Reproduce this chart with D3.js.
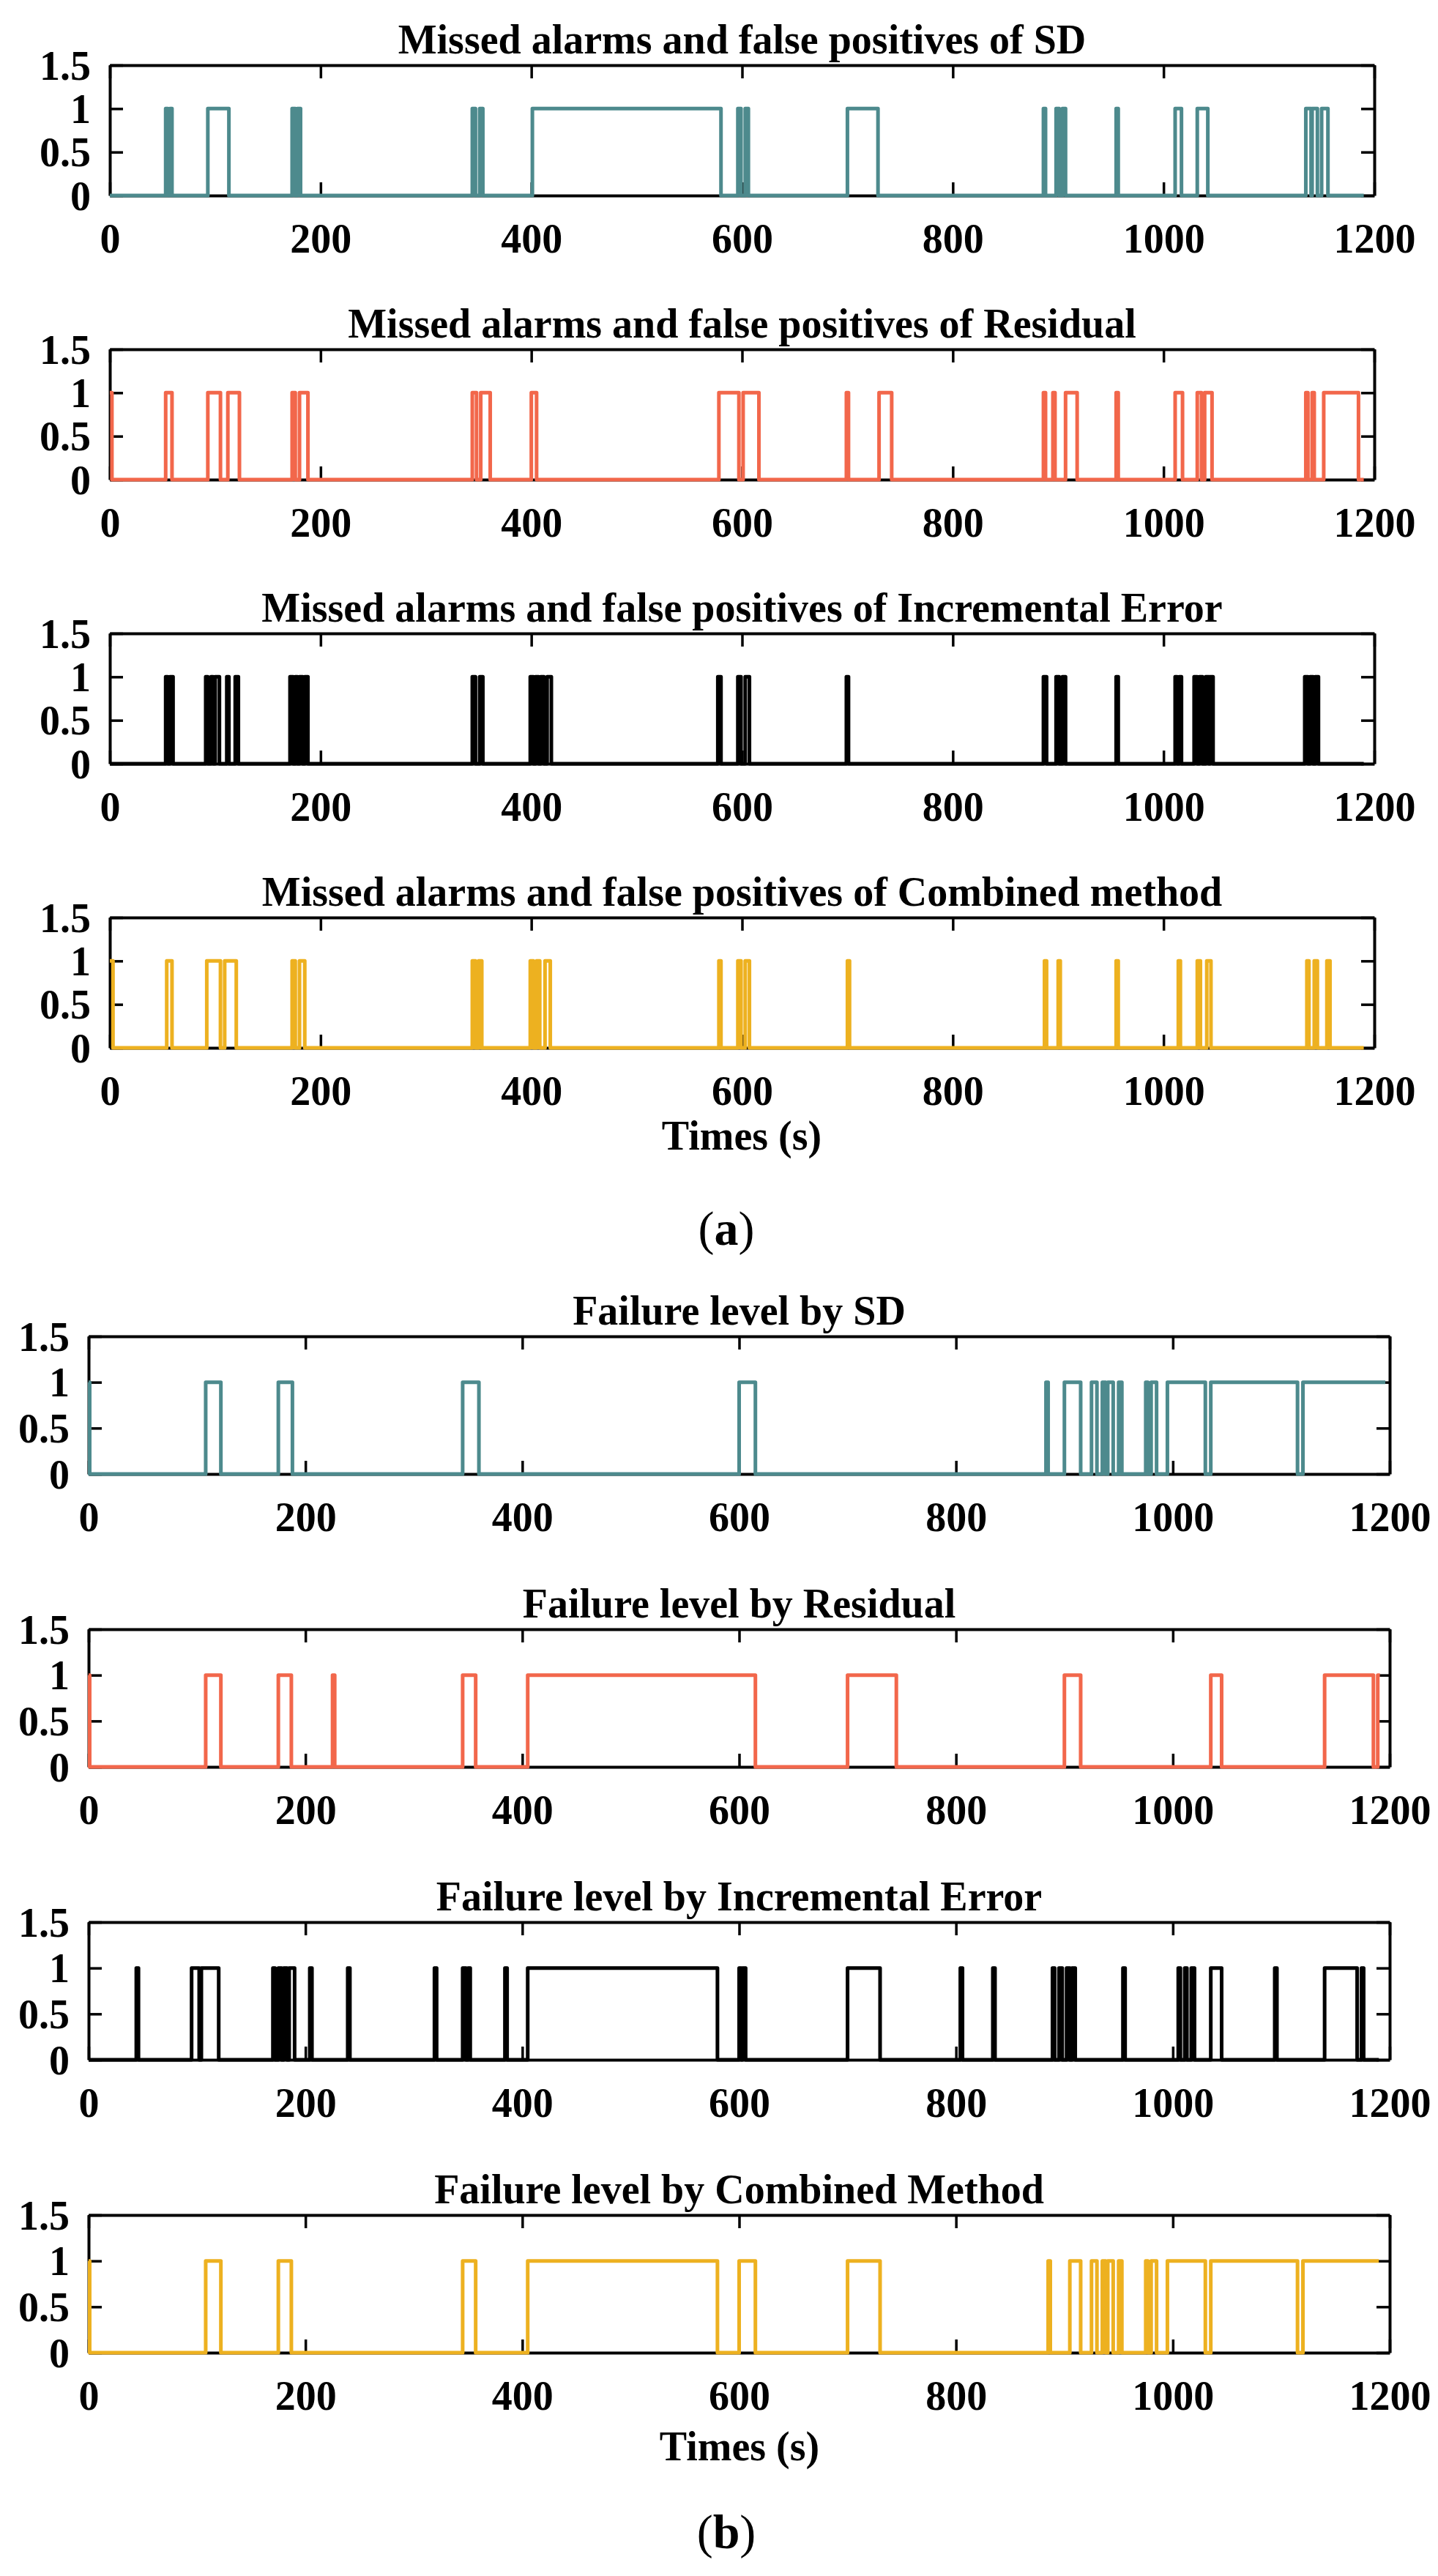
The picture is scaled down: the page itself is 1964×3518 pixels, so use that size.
<!DOCTYPE html>
<html>
<head>
<meta charset="utf-8">
<script src="https://cdn.jsdelivr.net/npm/d3@7"></script>
<style>
body { margin: 0; background: #fff; }
svg text { font-family: "Liberation Serif", "Times New Roman", serif; font-weight: bold; fill: #000; }
</style>
</head>
<body>
<div id="chart"></div>
<script>
const width = 1964;
const height = 3518;

const xTicks = [0, 200, 400, 600, 800, 1000, 1200];
const yTicks = [0, 0.5, 1, 1.5];
const yTickLabels = ["0", "0.5", "1", "1.5"];

// intervals [start, end] (s) where the flag is 1
const sdMissed = [[53,55],[57,59],[93,113],[173,176],[178,181],[344,347],[351,354],[401,580],
  [596,599],[603,606],[700,729],[886,888],[898,901],[904,907],[955,957],[1011,1017],[1032,1042],
  [1135,1140],[1141,1146],[1150,1156]];
const resMissed = [[0,2],[53,59],[93,105],[112,123],[173,176],[180,188],[344,348],[352,361],[400,405],
  [578,597],[601,616],[699,701],[730,742],[886,888],[895,897],[907,918],[955,957],[1011,1018],
  [1032,1036],[1039,1046],[1135,1137],[1141,1143],[1152,1185]];
const incMissed = [[53,55],[57,60],[91,93],[96,98],[100,104],[111,113],[119,122],[171,174],[176,178],
  [180,183],[185,188],[344,347],[351,354],[399,402],[404,407],[409,412],[415,419],[577,580],[596,599],
  [603,607],[699,701],[886,889],[898,901],[904,907],[955,957],[1011,1013],[1015,1017],[1029,1032],
  [1034,1037],[1040,1043],[1044,1047],[1134,1137],[1139,1142],[1144,1147]];
const combMissed = [[0,3],[54,59],[92,105],[109,120],[173,176],[180,185],[344,347],[350,353],[399,402],
  [405,408],[413,418],[578,580],[596,599],[603,607],[700,702],[887,889],[900,902],[955,957],
  [1014,1016],[1032,1035],[1041,1045],[1136,1138],[1143,1146],[1155,1158]];

const sdLevel = [[0,1],[108,122],[175,188],[345,360],[600,615],[883,885],[900,915],[925,930],[935,938],
  [940,945],[950,953],[975,977],[980,985],[995,1030],[1035,1115],[1120,1196]];
const resLevel = [[0,1],[108,122],[175,187],[225,227],[345,357],[405,615],[700,745],[900,915],
  [1035,1045],[1140,1185],[1189,1191]];
const incLevel = [[44,46],[95,102],[104,120],[170,172],[175,178],[180,183],[185,190],[204,206],[239,241],
  [319,321],[345,348],[350,352],[384,386],[405,580],[600,602],[603,606],[700,730],[804,806],[834,836],
  [889,891],[895,898],[902,905],[907,910],[954,956],[1005,1007],[1011,1013],[1017,1020],[1035,1045],
  [1094,1096],[1140,1170],[1174,1176]];
const combLevel = [[0,1],[108,122],[175,187],[345,357],[405,580],[600,615],[700,730],[885,887],
  [905,915],[925,930],[935,938],[940,945],[950,953],[975,977],[980,985],[995,1030],[1035,1115],[1120,1190]];

const titlesA = ["Missed alarms and false positives of SD", "Missed alarms and false positives of Residual",
  "Missed alarms and false positives of Incremental Error", "Missed alarms and false positives of Combined method"];
const titlesB = ["Failure level by SD", "Failure level by Residual",
  "Failure level by Incremental Error", "Failure level by Combined Method"];

const seriesA = [sdMissed, resMissed, incMissed, combMissed];
const seriesB = [sdLevel, resLevel, incLevel, combLevel];
const colors = ["#4d8a8d", "#f2674b", "#000000", "#edb120"];
const tEndA = 1190;
const tEndB = [1196, 1191, 1190, 1190];

const svg = d3.select("#chart")
    .append("svg")
    .attr("width", width)
    .attr("height", height)
    .attr("viewBox", [0, 0, width, height]);

// turn pulse intervals into a 0/1 step trace
function toSteps(pulses, tEnd) {
    const pts = [];
    if (!pulses.length || pulses[0][0] > 0) pts.push([0, 0]);
    pulses.forEach(([s, e]) => {
        if (s > 0) pts.push([s, 0]);
        pts.push([s, 1], [e, 1]);
        if (e < tEnd) pts.push([e, 0]);
    });
    const last = pts[pts.length - 1];
    if (last[0] < tEnd) pts.push([tEnd, last[1]]);
    return pts;
}

function drawPanel(opt) {
    const x = d3.scaleLinear().domain([0, 1200]).range([opt.left, opt.right]);
    const y = d3.scaleLinear().domain([0, 1.5]).range([opt.top + opt.h, opt.top]);
    const g = svg.append("g");

    g.append("text")
        .attr("x", (opt.left + opt.right) / 2)
        .attr("y", opt.top - 16)
        .attr("text-anchor", "middle")
        .attr("font-size", 56)
        .text(opt.title);

    const axes = [
        g.append("g").attr("transform", `translate(0,${opt.top + opt.h})`)
            .call(d3.axisBottom(x).tickValues(xTicks).tickSize(-18).tickSizeOuter(0).tickPadding(38)
                .tickFormat(d3.format("d"))),
        g.append("g").attr("transform", `translate(0,${opt.top})`)
            .call(d3.axisTop(x).tickValues(xTicks).tickSize(-18).tickSizeOuter(0).tickFormat("")),
        g.append("g").attr("transform", `translate(${opt.left},0)`)
            .call(d3.axisLeft(y).tickValues(yTicks).tickSize(-18).tickSizeOuter(0).tickPadding(26)
                .tickFormat((d, i) => yTickLabels[i])),
        g.append("g").attr("transform", `translate(${opt.right},0)`)
            .call(d3.axisRight(y).tickValues(yTicks).tickSize(-18).tickSizeOuter(0).tickFormat(""))
    ];
    axes.forEach(a => {
        a.select(".domain").attr("stroke", "#000").attr("stroke-width", 4);
        a.selectAll(".tick line").attr("stroke", "#000").attr("stroke-width", 3.5);
        a.selectAll(".tick text").attr("font-size", 56).attr("font-family", null);
    });
    axes[2].selectAll(".tick text").attr("dy", "0.34em");

    const line = d3.line().x(d => x(d[0])).y(d => y(d[1]));
    g.append("path")
        .datum(toSteps(opt.data, opt.tEnd))
        .attr("fill", "none")
        .attr("stroke", opt.color)
        .attr("stroke-width", 5)
        .attr("stroke-linejoin", "round")
        .attr("d", line);
}

// part (a)
titlesA.forEach((t, i) => {
    drawPanel({ title: t, data: seriesA[i], color: colors[i], tEnd: tEndA,
        left: 150, right: 1877, top: 89 + i * 388, h: 178 });
});
// part (b)
titlesB.forEach((t, i) => {
    drawPanel({ title: t, data: seriesB[i], color: colors[i], tEnd: tEndB[i],
        left: 121, right: 1898, top: 1825 + i * 400, h: 188 });
});

svg.append("text")
    .attr("x", 1013).attr("y", 1570)
    .attr("text-anchor", "middle").attr("font-size", 56)
    .text("Times (s)");
svg.append("text")
    .attr("x", 1010).attr("y", 3360)
    .attr("text-anchor", "middle").attr("font-size", 56)
    .text("Times (s)");

function subLabel(cx, cy, letter) {
    const t = svg.append("text")
        .attr("x", cx).attr("y", cy)
        .attr("text-anchor", "middle").attr("font-size", 66)
        .attr("font-weight", "normal");
    t.append("tspan").attr("font-weight", "normal").text("(");
    t.append("tspan").attr("font-weight", "bold").text(letter);
    t.append("tspan").attr("font-weight", "normal").text(")");
}
subLabel(992, 1700, "a");
subLabel(992, 3480, "b");
</script>
</body>
</html>
